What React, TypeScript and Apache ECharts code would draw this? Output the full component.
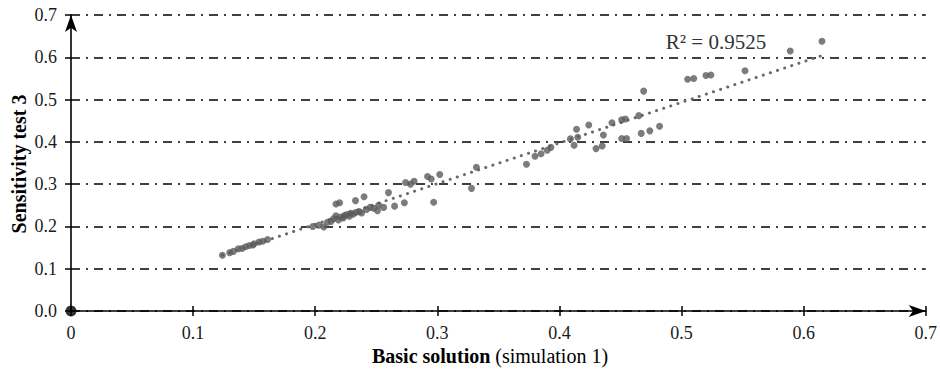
import React, { useEffect, useRef } from "react";
import * as echarts from "echarts";

const xTicks = [0, 0.1, 0.2, 0.3, 0.4, 0.5, 0.6, 0.7];
const yTicks = [0, 0.1, 0.2, 0.3, 0.4, 0.5, 0.6, 0.7];

const lowerCluster: number[][] = [
  [0.124, 0.132], [0.130, 0.138], [0.133, 0.141], [0.137, 0.147], [0.140, 0.148],
  [0.143, 0.152], [0.146, 0.155], [0.149, 0.156], [0.150, 0.159], [0.154, 0.163],
  [0.157, 0.165], [0.161, 0.169],
];

const midCluster: number[][] = [
  [0.198, 0.200], [0.203, 0.203], [0.207, 0.199], [0.210, 0.210], [0.213, 0.212],
  [0.215, 0.218], [0.217, 0.225], [0.217, 0.253], [0.220, 0.256], [0.219, 0.215],
  [0.221, 0.222], [0.223, 0.220], [0.224, 0.226], [0.226, 0.228], [0.228, 0.224],
  [0.229, 0.231], [0.231, 0.229], [0.233, 0.233], [0.233, 0.261], [0.236, 0.235],
  [0.238, 0.232], [0.240, 0.270], [0.242, 0.240], [0.245, 0.245], [0.248, 0.243],
  [0.252, 0.250], [0.251, 0.237], [0.256, 0.245], [0.260, 0.280], [0.265, 0.248],
  [0.273, 0.256], [0.274, 0.304], [0.278, 0.300], [0.281, 0.307], [0.292, 0.318],
  [0.295, 0.312], [0.297, 0.257], [0.302, 0.323], [0.328, 0.290], [0.332, 0.340],
];

const upperCluster: number[][] = [
  [0.373, 0.347], [0.380, 0.366], [0.385, 0.372], [0.390, 0.380], [0.393, 0.387],
  [0.409, 0.407], [0.412, 0.392], [0.415, 0.411], [0.414, 0.430], [0.424, 0.440],
  [0.430, 0.384], [0.435, 0.390], [0.436, 0.416], [0.443, 0.445], [0.451, 0.452],
  [0.454, 0.454], [0.451, 0.408], [0.455, 0.408], [0.465, 0.462], [0.469, 0.520],
  [0.467, 0.420], [0.474, 0.426], [0.482, 0.437], [0.505, 0.548], [0.510, 0.550],
  [0.520, 0.557], [0.524, 0.558], [0.552, 0.568], [0.589, 0.615], [0.615, 0.638],
];

const trendStart = [0.124, 0.132];
const trendEnd = [0.614, 0.603];
const rSquaredLabel = "R² = 0.9525";
const xTitleBold = "Basic solution";
const xTitleNormal = "(simulation 1)";
const yTitle = "Sensitivity test 3";

const FONT = "Times New Roman, Liberation Serif, DejaVu Serif, serif";

export default function App() {
  const ref = useRef<HTMLDivElement>(null);
  useEffect(() => {
    if (!ref.current) return;
    const chart = echarts.init(ref.current, undefined, { renderer: "svg" });
    const points = [...lowerCluster, ...midCluster, ...upperCluster];
    chart.setOption({
      animation: false,
      textStyle: { fontFamily: FONT },
      grid: { left: 71, right: 13, top: 15, bottom: 61, containLabel: false },
      xAxis: [
        {
          type: "value",
          min: xTicks[0],
          max: xTicks[xTicks.length - 1],
          interval: 0.1,
          axisLine: {
            show: true,
            onZero: false,
            symbol: ["none", "arrow"],
            symbolSize: [9, 17],
            lineStyle: { color: "#000", width: 1.6 },
          },
          axisTick: { show: true, length: 5, lineStyle: { color: "#000", width: 1.5 } },
          axisLabel: {
            color: "#1a1a1a",
            fontFamily: FONT,
            fontSize: 18,
            margin: 13,
            formatter: (v: number) => (v === 0 ? "0" : v.toFixed(1)),
          },
          splitLine: { show: false },
        },
        {
          type: "value",
          position: "bottom",
          min: xTicks[0],
          max: xTicks[xTicks.length - 1],
          interval: 0.1,
          axisLine: { show: false },
          axisTick: { show: true, inside: true, length: 5, lineStyle: { color: "#000", width: 1.5 } },
          axisLabel: { show: false },
          splitLine: { show: false },
        },
      ],
      yAxis: {
        type: "value",
        min: yTicks[0],
        max: yTicks[yTicks.length - 1],
        interval: 0.1,
        axisLine: {
          show: true,
          onZero: false,
          symbol: ["none", "arrow"],
          symbolSize: [9, 17],
          lineStyle: { color: "#000", width: 1.6 },
        },
        axisTick: { show: true, length: 6, lineStyle: { color: "#000", width: 1.5 } },
        axisLabel: {
          color: "#1a1a1a",
          fontFamily: FONT,
          fontSize: 18,
          margin: 14,
          formatter: (v: number) => v.toFixed(1),
        },
        splitLine: {
          show: true,
          lineStyle: { color: "#000", width: 1.5, type: [9, 6, 2, 6] },
        },
      },
      series: [
        {
          type: "line",
          data: [trendStart, trendEnd],
          symbol: "none",
          lineStyle: { color: "#6a6a6a", width: 3, type: [0.1, 7.4], cap: "round" },
          z: 2,
        },
        {
          type: "scatter",
          data: points,
          symbol: "circle",
          symbolSize: 7,
          itemStyle: { color: "#5b5b5b" },
          z: 3,
        },
        {
          type: "scatter",
          data: [[0, 0]],
          symbol: "circle",
          symbolSize: 11,
          clip: false,
          itemStyle: { color: "#000" },
          z: 5,
        },
      ],
      graphic: [
        {
          type: "text",
          x: 716,
          y: 42,
          style: {
            text: rSquaredLabel,
            fontFamily: FONT,
            fontSize: 21,
            fill: "#333",
            textAlign: "center",
            textVerticalAlign: "middle",
          },
        },
        {
          type: "text",
          x: 490,
          y: 356,
          style: {
            text: `{b|${xTitleBold}} {n|${xTitleNormal}}`,
            fontFamily: FONT,
            fontSize: 20,
            textAlign: "center",
            textVerticalAlign: "middle",
            fill: "#000",
            rich: {
              b: { fontFamily: FONT, fontSize: 20, fontWeight: "bold", fill: "#000" },
              n: { fontFamily: FONT, fontSize: 20, fill: "#000" },
            },
          },
        },
        {
          type: "text",
          x: 19,
          y: 164,
          rotation: Math.PI / 2,
          style: {
            text: yTitle,
            fontFamily: FONT,
            fontSize: 20,
            fontWeight: "bold",
            fill: "#000",
            textAlign: "center",
            textVerticalAlign: "middle",
          },
        },
      ],
    });
    return () => chart.dispose();
  }, []);
  return (
    <div
      ref={ref}
      style={{ position: "absolute", left: 0, top: 0, width: 940, height: 372 }}
    />
  );
}
